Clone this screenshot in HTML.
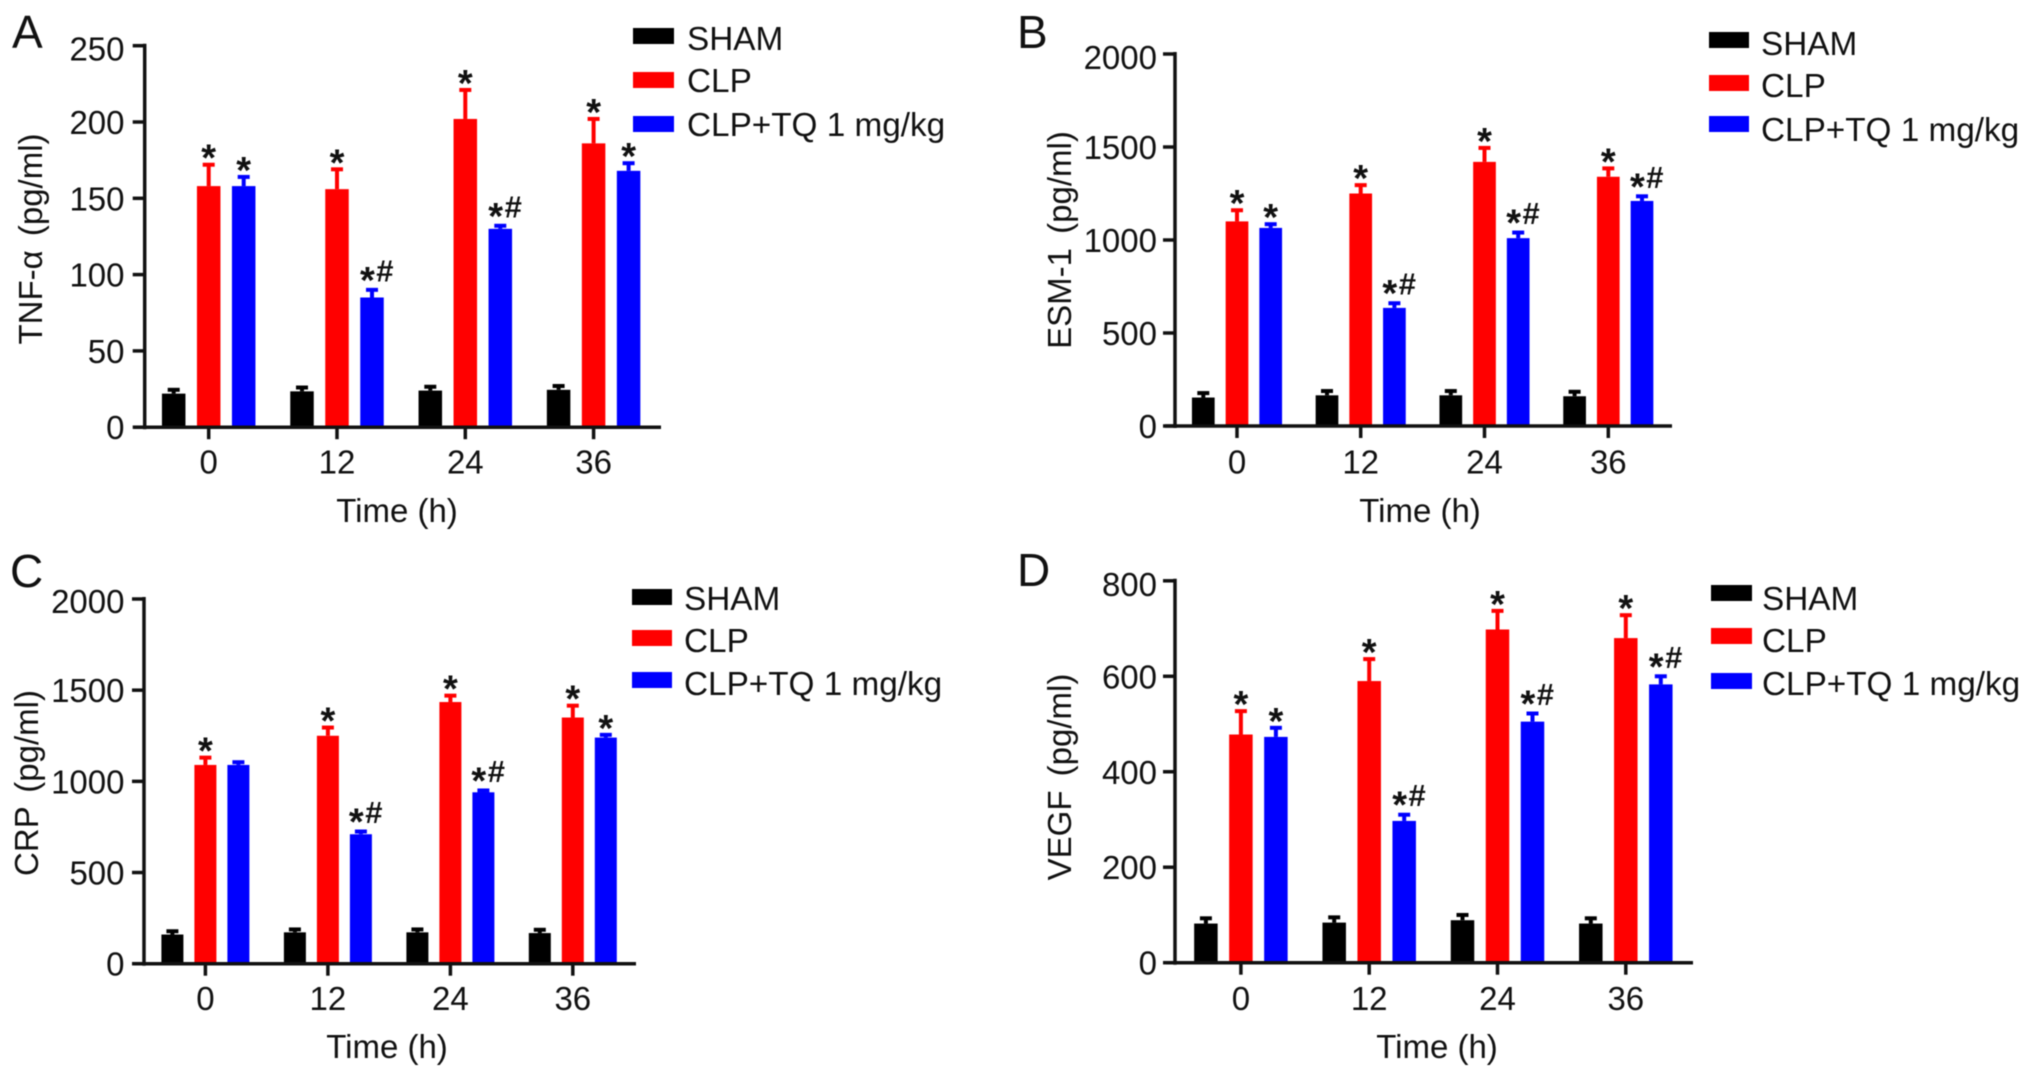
<!DOCTYPE html>
<html>
<head>
<meta charset="utf-8">
<title>Cytokine levels over time</title>
<style>
html,body{margin:0;padding:0;background:#fff;width:2032px;height:1078px;overflow:hidden}
svg{display:block;filter:blur(0.6px)}
text{font-family:"Liberation Sans",sans-serif;fill:#111}
.tick{font-size:33px}
.legend{font-size:33.3px}
.title{font-size:33px}
.ytitle{font-size:33px;word-spacing:5px}
.letter{font-size:46px}
.mark{font-size:38px}
.star{font-size:38px;font-weight:bold}
.hash{font-size:31px;font-weight:bold}
</style>
</head>
<body>
<svg id="figure" width="2032" height="1078" viewBox="0 0 2032 1078" xmlns="http://www.w3.org/2000/svg">
  <rect width="2032" height="1078" fill="#fff"/>

  <g id="panel-a">
    <text class="letter" x="12" y="48">A</text>
    <text class="ytitle" transform="translate(42,239) rotate(-90)" text-anchor="middle">TNF-α (pg/ml)</text>
    <text class="title" x="397" y="522" text-anchor="middle">Time (h)</text>
    <g>
      <rect x="633" y="28" width="41" height="16" fill="#000"/>
      <text class="legend" x="687" y="50">SHAM</text>
      <rect x="633" y="72" width="41" height="16" fill="#f00"/>
      <text class="legend" x="687" y="92">CLP</text>
      <rect x="633" y="116" width="41" height="16" fill="#00f"/>
      <text class="legend" x="687" y="136">CLP+TQ 1 mg/kg</text>
    </g>
  </g>

  <g id="panel-b">
    <text class="letter" x="1017" y="48">B</text>
    <text class="ytitle" transform="translate(1071,240) rotate(-90)" text-anchor="middle">ESM-1 (pg/ml)</text>
    <text class="title" x="1420" y="522" text-anchor="middle">Time (h)</text>
    <g>
      <rect x="1709" y="32" width="40" height="16" fill="#000"/>
      <text class="legend" x="1761" y="55">SHAM</text>
      <rect x="1709" y="75" width="40" height="16" fill="#f00"/>
      <text class="legend" x="1761" y="97">CLP</text>
      <rect x="1709" y="116" width="40" height="16" fill="#00f"/>
      <text class="legend" x="1761" y="141">CLP+TQ 1 mg/kg</text>
    </g>
  </g>

  <g id="panel-c">
    <text class="letter" x="10" y="587">C</text>
    <text class="ytitle" transform="translate(38,783) rotate(-90)" text-anchor="middle">CRP (pg/ml)</text>
    <text class="title" x="387" y="1058" text-anchor="middle">Time (h)</text>
    <g>
      <rect x="632" y="589" width="40" height="16" fill="#000"/>
      <text class="legend" x="684" y="610">SHAM</text>
      <rect x="632" y="630" width="40" height="16" fill="#f00"/>
      <text class="legend" x="684" y="652">CLP</text>
      <rect x="632" y="672" width="40" height="16" fill="#00f"/>
      <text class="legend" x="684" y="695">CLP+TQ 1 mg/kg</text>
    </g>
  </g>

  <g id="panel-d">
    <text class="letter" x="1017" y="586">D</text>
    <text class="ytitle" transform="translate(1071,777) rotate(-90)" text-anchor="middle">VEGF (pg/ml)</text>
    <text class="title" x="1437" y="1058" text-anchor="middle">Time (h)</text>
    <g>
      <rect x="1711" y="585" width="41" height="16" fill="#000"/>
      <text class="legend" x="1762" y="610">SHAM</text>
      <rect x="1711" y="628" width="41" height="16" fill="#f00"/>
      <text class="legend" x="1762" y="652">CLP</text>
      <rect x="1711" y="673" width="41" height="16" fill="#00f"/>
      <text class="legend" x="1762" y="695">CLP+TQ 1 mg/kg</text>
    </g>
  </g>
</svg>

<script>
var hours = ['0', '12', '24', '36'];
var seriesKeys = ['sham', 'clp', 'clp-tq'];
var seriesColors = ['#000', '#f00', '#00f'];

var ticksA = [0, 50, 100, 150, 200, 250];
var shamA = [22, 23.5, 24, 24.5];
var clpA = [158, 156, 202, 186];
var tqA = [158, 85, 130, 168];
var shamErrA = [24.5, 26, 26.5, 27];
var clpErrA = [172, 169, 221, 202];
var tqErrA = [164, 90, 132, 173];
var clpMarksA = ['*', '*', '*', '*'];
var tqMarksA = ['*', '*#', '*#', '*'];

var ticksB = [0, 500, 1000, 1500, 2000];
var shamB = [153, 165, 165, 160];
var clpB = [1100, 1250, 1420, 1340];
var tqB = [1065, 635, 1010, 1210];
var shamErrB = [177, 188, 188, 184];
var clpErrB = [1160, 1295, 1495, 1385];
var tqErrB = [1085, 660, 1040, 1235];
var clpMarksB = ['*', '*', '*', '*'];
var tqMarksB = ['*', '*#', '*#', '*#'];

var ticksC = [0, 500, 1000, 1500, 2000];
var shamC = [160, 172, 172, 168];
var clpC = [1090, 1250, 1435, 1350];
var tqC = [1090, 710, 940, 1240];
var shamErrC = [178, 188, 188, 186];
var clpErrC = [1130, 1295, 1470, 1415];
var tqErrC = [1105, 725, 950, 1255];
var clpMarksC = ['*', '*', '*', '*'];
var tqMarksC = ['', '*#', '*#', '*'];

var ticksD = [0, 200, 400, 600, 800];
var shamD = [82, 84, 89, 82];
var clpD = [478, 590, 698, 680];
var tqD = [473, 297, 505, 583];
var shamErrD = [93, 95, 100, 93];
var clpErrD = [527, 636, 737, 728];
var tqErrD = [492, 310, 522, 600];
var clpMarksD = ['*', '*', '*', '*'];
var tqMarksD = ['*', '*#', '*#', '*#'];

var panels = [
  {id: 'panel-a', axisX: 144.7, y0: 427.2, yTop: 45.7, left: 134, right: 661, labelRight: 124.5, labelY: 473.5,
   centers: [208.7, 337, 465.3, 593.6], offset: 35, barW: 23.5, nudge: 3,
   ticks: ticksA, values: [shamA, clpA, tqA], errs: [shamErrA, clpErrA, tqErrA], marks: [null, clpMarksA, tqMarksA]},
  {id: 'panel-b', axisX: 1175, y0: 426, yTop: 54, left: 1165, right: 1672, labelRight: 1157, labelY: 473.5,
   centers: [1237, 1360.7, 1484.5, 1608.3], offset: 33.7, barW: 22.7, nudge: 3,
   ticks: ticksB, values: [shamB, clpB, tqB], errs: [shamErrB, clpErrB, tqErrB], marks: [null, clpMarksB, tqMarksB]},
  {id: 'panel-c', axisX: 144, y0: 963.7, yTop: 599, left: 134, right: 636, labelRight: 124.5, labelY: 1010,
   centers: [205.4, 327.9, 450.4, 572.8], offset: 33, barW: 22, nudge: 2,
   ticks: ticksC, values: [shamC, clpC, tqC], errs: [shamErrC, clpErrC, tqErrC], marks: [null, clpMarksC, tqMarksC]},
  {id: 'panel-d', axisX: 1175, y0: 962.7, yTop: 580.8, left: 1166, right: 1693, labelRight: 1157, labelY: 1010,
   centers: [1240.9, 1369.2, 1497.5, 1625.8], offset: 35, barW: 23.5, nudge: 3,
   ticks: ticksD, values: [shamD, clpD, tqD], errs: [shamErrD, clpErrD, tqErrD], marks: [null, clpMarksD, tqMarksD]}
];

var NS = 'http://www.w3.org/2000/svg';

function make(tag) {
  return document.createElementNS(NS, tag);
}

function yScale(p, v) {
  var max = p.ticks[p.ticks.length - 1];
  return p.y0 - (v / max) * (p.y0 - p.yTop);
}

function xScale(p, groupIndex, seriesIndex) {
  return p.centers[groupIndex] + (seriesIndex - 1) * p.offset;
}

function setLine(el, x1, y1, x2, y2, color, width) {
  el.setAttribute('x1', x1);
  el.setAttribute('y1', y1);
  el.setAttribute('x2', x2);
  el.setAttribute('y2', y2);
  el.setAttribute('stroke', color);
  el.setAttribute('stroke-width', width);
}

panels.forEach(function (p) {
  var root = document.getElementById(p.id);

  // Bars, error bars, significance marks
  p.values.forEach(function (series, s) {
    series.forEach(function (value, g) {
      var cx = xScale(p, g, s);
      var topY = yScale(p, value);
      var errY = yScale(p, p.errs[s][g]);
      var color = seriesColors[s];

      var stem = make('line');
      
      
      setLine(stem, cx, topY, cx, errY, color, 4);
      root.appendChild(stem);

      var cap = make('line');
      
      
      setLine(cap, cx - 6, errY, cx + 6, errY, color, 4);
      root.appendChild(cap);

      var bar = make('rect');
      
      
      bar.setAttribute('x', cx - p.barW / 2);
      bar.setAttribute('y', topY);
      bar.setAttribute('width', p.barW);
      bar.setAttribute('height', p.y0 - topY);
      bar.setAttribute('fill', color);
      root.appendChild(bar);

      var label = p.marks[s] ? p.marks[s][g] : '';
      if (label) {
        var mark = make('text');
        
        
        mark.setAttribute('class', 'mark');
        if (label.length > 1) {
          mark.setAttribute('x', cx - 12);
          mark.setAttribute('y', errY + 3);
          var star = make('tspan');
          
          
          star.setAttribute('class', 'star');
          star.textContent = label.charAt(0);
          mark.appendChild(star);
          var hash = make('tspan');
          
          
          hash.setAttribute('class', 'hash');
          hash.setAttribute('dx', '1.5');
          hash.setAttribute('dy', '-11.5');
          hash.textContent = label.charAt(1);
          mark.appendChild(hash);
        } else {
          mark.setAttribute('x', cx);
          mark.setAttribute('y', errY + 6);
          mark.setAttribute('text-anchor', 'middle');
          var single = make('tspan');
          
          
          single.setAttribute('class', 'star');
          single.textContent = label;
          mark.appendChild(single);
        }
        root.appendChild(mark);
      }
    });
  });

  // Y axis
  var yAxis = make('line');
  
  
  setLine(yAxis, p.axisX, p.yTop - 2, p.axisX, p.y0 + 2, '#111', 3.5);
  root.appendChild(yAxis);

  p.ticks.forEach(function (t, i) {
    var y = yScale(p, t);
    var tick = make('line');
    
    
    setLine(tick, p.axisX - 12, y, p.axisX, y, '#111', 3.5);
    root.appendChild(tick);

    var lab = make('text');
    
    
    lab.setAttribute('class', 'tick');
    lab.setAttribute('x', p.labelRight);
    lab.setAttribute('y', y + 12 + (i === p.ticks.length - 1 ? p.nudge : 0));
    lab.setAttribute('text-anchor', 'end');
    lab.textContent = t;
    root.appendChild(lab);
  });

  // X axis
  var xAxis = make('line');
  
  
  setLine(xAxis, p.left, p.y0, p.right, p.y0, '#111', 3.5);
  root.appendChild(xAxis);

  hours.forEach(function (h, g) {
    var cx = p.centers[g];
    var tick = make('line');
    
    
    setLine(tick, cx, p.y0, cx, p.y0 + 12, '#111', 3.5);
    root.appendChild(tick);

    var lab = make('text');
    
    
    lab.setAttribute('class', 'tick');
    lab.setAttribute('x', cx);
    lab.setAttribute('y', p.labelY);
    lab.setAttribute('text-anchor', 'middle');
    lab.textContent = h;
    root.appendChild(lab);
  });
});
</script>
</body>
</html>
